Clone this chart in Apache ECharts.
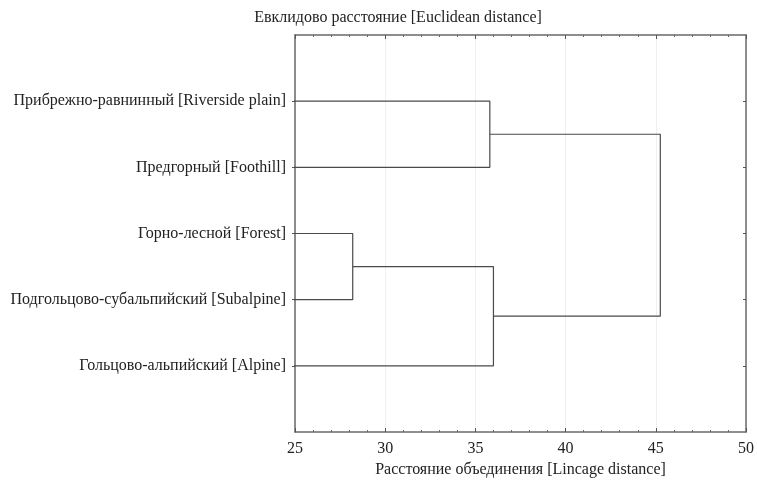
<!DOCTYPE html>
<html>
<head>
<meta charset="utf-8">
<script src="https://cdn.jsdelivr.net/npm/echarts@6/dist/echarts.min.js"></script>
<style>html,body{margin:0;padding:0;background:#fff}#c{width:757px;height:485px}</style>
</head>
<body>
<div id="c"></div>
<script>
// Leaves (top to bottom)
const categories = [
  'Прибрежно-равнинный [Riverside plain]',
  'Предгорный [Foothill]',
  'Горно-лесной [Forest]',
  'Подгольцово-субальпийский [Subalpine]',
  'Гольцово-альпийский [Alpine]'
];
// Merges: [nodeA, nodeB, linkage distance]; leaf nodes 0..4, new nodes 5,6,...
const mergeA = [2, 0, 5, 6];
const mergeB = [3, 1, 4, 7];
const mergeDist = [28.2, 35.8, 36.0, 45.25];
const xTicks = [25, 30, 35, 40, 45, 50];
const titleText = 'Евклидово расстояние [Euclidean distance]';
const xAxisName = 'Расстояние объединения [Lincage distance]';

const FONT = '"Liberation Serif", "DejaVu Serif", serif';
// node positions: leaf height 0 (clipped at axis min), y = index+1
const nodeX = categories.map(() => 0);
const nodeY = categories.map((_, i) => i + 1);
const series = [];
for (let i = 0; i < mergeDist.length; i++) {
  const a = mergeA[i], b = mergeB[i], d = mergeDist[i];
  series.push({
    type: 'line', symbol: 'none', clip: true, animation: false,
    lineStyle: { color: '#4a4a4a', width: 1.2 },
    data: [[nodeX[a], nodeY[a]], [d, nodeY[a]], [d, nodeY[b]], [nodeX[b], nodeY[b]]]
  });
  nodeX.push(d);
  nodeY.push((nodeY[a] + nodeY[b]) / 2);
}
const catPos = categories.map((_, i) => i + 1);

const axisLine = { show: true, onZero: false, lineStyle: { color: '#6a6a6a', width: 1.5 } };
const chart = echarts.init(document.getElementById('c'));
chart.setOption({
  animation: false,
  title: {
    text: titleText, left: 393, top: 5, textAlign: 'center',
    textStyle: { fontFamily: FONT, fontSize: 16, fontWeight: 'normal', color: '#222' }
  },
  grid: { left: 295, right: 9, top: 35, bottom: 53 },
  xAxis: [{
    type: 'value', min: xTicks[0], max: xTicks[xTicks.length - 1], interval: 5,
    position: 'bottom',
    name: xAxisName, nameLocation: 'middle', nameGap: 27,
    nameTextStyle: { fontFamily: FONT, fontSize: 16, color: '#222' },
    axisLine: axisLine,
    axisTick: { show: true, inside: true, length: 4, lineStyle: { color: '#555' } },
    minorTick: { show: true, splitNumber: 5, length: 2, lineStyle: { color: '#666' } },
    axisLabel: { fontFamily: FONT, fontSize: 16, color: '#222', margin: 9 },
    splitLine: { show: true, lineStyle: { color: '#efefef', width: 1 } }
  }, {
    type: 'value', min: xTicks[0], max: xTicks[xTicks.length - 1], interval: 5,
    position: 'top',
    axisLine: axisLine,
    axisTick: { show: true, inside: true, length: 4, lineStyle: { color: '#555' } },
    minorTick: { show: true, splitNumber: 5, length: 2, lineStyle: { color: '#666' } },
    axisLabel: { show: false }, splitLine: { show: false }
  }],
  yAxis: [{
    type: 'value', min: 0, max: categories.length + 1, interval: 1, inverse: true,
    position: 'left',
    axisLine: axisLine,
    axisTick: { show: true, inside: false, length: 3, customValues: catPos, lineStyle: { color: '#555' } },
    axisLabel: {
      fontFamily: FONT, fontSize: 16, color: '#222', margin: 9,
      customValues: catPos,
      formatter: v => categories[v - 1] || ''
    },
    splitLine: { show: false }
  }, {
    type: 'value', min: 0, max: categories.length + 1, interval: 1, inverse: true,
    position: 'right',
    axisLine: axisLine,
    axisTick: { show: true, inside: true, length: 3, customValues: catPos, lineStyle: { color: '#555' } },
    axisLabel: { show: false }, splitLine: { show: false }
  }],
  series: series
});
</script>
</body>
</html>
